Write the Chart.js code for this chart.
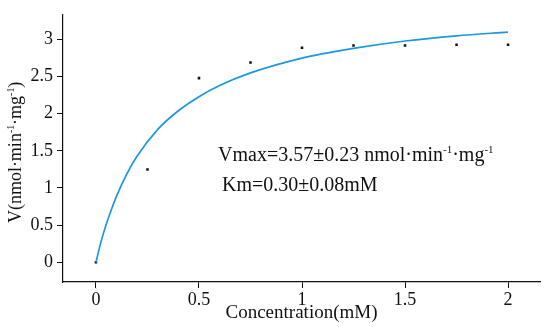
<!DOCTYPE html>
<html>
<head>
<meta charset="utf-8">
<script src="https://cdn.jsdelivr.net/npm/chart.js@4/dist/chart.umd.min.js"></script>
<style>
  html, body { margin: 0; padding: 0; background: #fff; }
  #wrap { width: 550px; height: 327px; position: relative; }
</style>
</head>
<body>
<div id="wrap"><canvas id="kinChart"></canvas></div>
<script>
// measured rates
const concX = [0, 0.25, 0.5, 0.75, 1, 1.25, 1.5, 1.75, 2];
const rateY = [0, 1.25, 2.48, 2.69, 2.89, 2.92, 2.92, 2.93, 2.93];

// fitted curve
const fitX = [0, 0.025, 0.05, 0.075, 0.1, 0.15, 0.2, 0.3, 0.4, 0.5, 0.6, 0.75, 1, 1.25, 1.5, 1.75, 2];
const fitY = [0, 0.28, 0.51, 0.71, 0.89, 1.19, 1.43, 1.79, 2.04, 2.23, 2.38, 2.55, 2.75, 2.88, 2.98, 3.05, 3.10];

const xTicks = [0, 0.5, 1, 1.5, 2];
const yTicks = [0, 0.5, 1, 1.5, 2, 2.5, 3];

// [text, superscript?]
const yTitle = [['V(nmol\u00b7min', false], ['-1', true], ['\u00b7mg', false], ['-1', true], [')', false]];
const noteVmax = [['Vmax=3.57\u00b10.23 nmol\u00b7min', false], ['-1', true], ['\u00b7mg', false], ['-1', true]];
const noteKm = [['Km=0.30\u00b10.08mM', false]];

const FONT = "'Liberation Serif', 'DejaVu Serif', serif";

function partsWidth(ctx, parts, size) {
    let w = 0;
    parts.forEach(p => {
        ctx.font = (p[1] ? size * 0.55 : size) + 'px ' + FONT;
        w += ctx.measureText(p[0]).width;
    });
    return w;
}

function drawParts(ctx, parts, x, y, size) {
    let cx = x;
    parts.forEach(p => {
        const s = p[1] ? size * 0.55 : size;
        ctx.font = s + 'px ' + FONT;
        ctx.fillText(p[0], cx, p[1] ? y - size * 0.38 : y);
        cx += ctx.measureText(p[0]).width;
    });
}

const textPlugin = {
    id: 'texts',
    afterDraw(chart) {
        const ctx = chart.ctx;
        ctx.save();
        ctx.fillStyle = '#111';
        ctx.textBaseline = 'alphabetic';
        drawParts(ctx, noteVmax, 218, 161, 20);
        drawParts(ctx, noteKm, 222, 191, 20);

        // y axis title, rotated
        const size = 18;
        const w = partsWidth(ctx, yTitle, size);
        ctx.translate(21, (chart.chartArea.top + chart.chartArea.bottom) / 2 + 4);
        ctx.rotate(-Math.PI / 2);
        drawParts(ctx, yTitle, -w / 2, 0, size);
        ctx.restore();
    }
};

const ctx = document.getElementById('kinChart').getContext('2d');
new Chart(ctx, {
    type: 'scatter',
    data: {
        datasets: [{
            type: 'line',
            label: 'fit',
            data: fitX.map((x, i) => ({ x: x, y: fitY[i] })),
            borderColor: '#1b98e0',
            borderWidth: 1.7,
            pointRadius: 0,
            cubicInterpolationMode: 'monotone',
            fill: false
        }, {
            label: 'data',
            data: concX.map((x, i) => ({ x: x, y: rateY[i] })),
            backgroundColor: '#111',
            borderColor: '#111',
            pointStyle: 'rect',
            pointRadius: 1.8,
            borderWidth: 0
        }]
    },
    options: {
        responsive: true,
        maintainAspectRatio: false,
        animation: false,
        layout: { padding: { top: 12, right: 10, left: 0, bottom: 3 } },
        plugins: {
            legend: { display: false },
            tooltip: { enabled: false }
        },
        scales: {
            x: {
                type: 'linear',
                min: -0.16,
                max: 2.155,
                afterBuildTicks: axis => { axis.ticks = xTicks.map(v => ({ value: v })); },
                afterFit: axis => { axis.height = 42; },
                ticks: {
                    color: '#111',
                    font: { family: FONT, size: 18 },
                    padding: 1,
                    maxRotation: 0,
                    callback: v => String(v)
                },
                grid: { drawOnChartArea: false, drawTicks: true, tickLength: 6, color: '#111' },
                border: { display: true, color: '#111', width: 1.2 },
                title: {
                    display: true,
                    text: 'Concentration(mM)',
                    color: '#111',
                    font: { family: FONT, size: 19 },
                    padding: { top: 0, bottom: 0 }
                }
            },
            y: {
                type: 'linear',
                min: -0.267,
                max: 3.333,
                afterBuildTicks: axis => { axis.ticks = yTicks.map(v => ({ value: v })); },
                afterFit: axis => { axis.width = 63; },
                ticks: {
                    color: '#111',
                    font: { family: FONT, size: 18 },
                    padding: 4,
                    callback: v => String(v)
                },
                grid: { drawOnChartArea: false, drawTicks: true, tickLength: 6, color: '#111' },
                border: { display: true, color: '#111', width: 1.2 },
                title: { display: false }
            }
        }
    },
    plugins: [textPlugin]
});
</script>
</body>
</html>
